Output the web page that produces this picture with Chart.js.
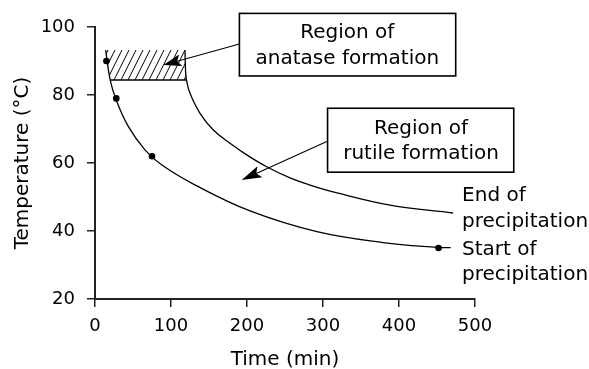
<!DOCTYPE html>
<html><head><meta charset="utf-8">
<script src="https://cdn.jsdelivr.net/npm/chart.js@4/dist/chart.umd.min.js"></script>
<style>html,body{margin:0;padding:0;background:#fff}#wrap{width:589px;height:369px}</style>
</head><body><div id="wrap"><canvas id="c" width="589" height="369"></canvas></div>
<script>
// ---- data ----
const xTicks = [0, 100, 200, 300, 400, 500];
const yTicks = [20, 40, 60, 80, 100];
const pointTime = [15, 28, 75, 452];
const pointTemp = [90, 79, 62, 35];
const startTime = [14, 20, 28, 44, 66, 88, 132, 204, 292, 379, 450, 468];
const startTemp = [93.2, 84.4, 78.5, 70.7, 63.8, 59.4, 53.5, 45.9, 39.8, 36.6, 35.2, 35.1];
const endTime = [118.4, 119.1, 120.4, 125, 138.2, 155.7, 177.6, 199.6, 225.9, 256.6, 282.9, 313.2, 388.2, 471];
const endTemp = [93.2, 87.4, 84.4, 80.5, 74.6, 69.7, 65.8, 62.4, 58.9, 55.6, 53.5, 51.5, 47.6, 45.3];
const hatchTime = [14, 118.4, 119.1, 120.4, 20, 17.3, 14];
const hatchTemp = [93.2, 93.2, 87.4, 84.4, 84.4, 88.6, 93.2];
const hatchBaseTime = [20, 120.4];
const hatchBaseTemp = [84.4, 84.4];
const anataseLabel = ["Region of", "anatase formation"];
const rutileLabel = ["Region of", "rutile formation"];
const endLabel = ["End of", "precipitation"];
const startLabel = ["Start of", "precipitation"];
const xTitle = "Time (min)";
const yTitle = "Temperature (\u00B0C)";

const zip = (a, b) => a.map((v, i) => ({x: v, y: b[i]}));
const FONT = '"DejaVu Sans", "Liberation Sans", sans-serif';

const canvas = document.getElementById('c');
const mainCtx = canvas.getContext('2d');
function hatchPattern() {
  const c = document.createElement('canvas'); c.width = 7; c.height = 14;
  const g = c.getContext('2d');
  g.strokeStyle = '#000'; g.lineWidth = 1;
  g.beginPath();
  for (const dx of [-7, 0, 7]) { g.moveTo(dx, 14); g.lineTo(dx + 7, 0); }
  g.stroke();
  return mainCtx.createPattern(c, 'repeat');
}

const annot = {
  id: 'annot',
  afterDatasetsDraw(chart, args, o) {
    const {ctx, scales: {x, y}} = chart;
    const X = v => x.getPixelForValue(v), Y = v => y.getPixelForValue(v);
    ctx.save();
    ctx.font = '20px ' + FONT;
    ctx.textBaseline = 'alphabetic';
    o.boxes.forEach(b => {
      const l = X(b.x1), r = X(b.x2), t = Y(b.y1), bt = Y(b.y2);
      ctx.fillStyle = '#fff'; ctx.fillRect(l, t, r - l, bt - t);
      ctx.strokeStyle = '#000'; ctx.lineWidth = 1.6; ctx.strokeRect(l, t, r - l, bt - t);
      ctx.fillStyle = '#000'; ctx.textAlign = 'center';
      b.lines.forEach((s, i) => ctx.fillText(s, X(b.tx), Y(b.ty[i])));
    });
    o.arrows.forEach(a => {
      const x0 = X(a.from[0]), y0 = Y(a.from[1]), x1 = X(a.to[0]), y1 = Y(a.to[1]);
      const ang = Math.atan2(y1 - y0, x1 - x0);
      const L = a.len, W = a.half;
      const bx = x1 - L * Math.cos(ang), by = y1 - L * Math.sin(ang);
      const nx = x1 - 0.8 * L * Math.cos(ang), ny = y1 - 0.8 * L * Math.sin(ang);
      ctx.strokeStyle = '#000'; ctx.lineWidth = 1.1;
      ctx.beginPath(); ctx.moveTo(x0, y0); ctx.lineTo(nx, ny); ctx.stroke();
      ctx.fillStyle = '#000';
      ctx.beginPath();
      ctx.moveTo(x1, y1);
      ctx.lineTo(bx + W * Math.sin(ang), by - W * Math.cos(ang));
      ctx.lineTo(nx, ny);
      ctx.lineTo(bx - W * Math.sin(ang), by + W * Math.cos(ang));
      ctx.closePath(); ctx.fill();
    });
    ctx.fillStyle = '#000'; ctx.textAlign = 'left';
    o.side.forEach(s => s.lines.forEach((t, i) => ctx.fillText(t, X(s.x), Y(s.ys[i]))));
    ctx.restore();
  }
};

new Chart(canvas, {
  type: 'line',
  data: {
    datasets: [
      {data: zip(pointTime, pointTemp), showLine: false, pointRadius: 3.3, pointBackgroundColor: '#000', pointBorderWidth: 0, borderColor: '#000'},
      {data: zip(startTime, startTemp), borderColor: '#000', borderWidth: 1.3, pointRadius: 0, tension: 0.4, fill: false},
      {data: zip(endTime, endTemp), borderColor: '#000', borderWidth: 1.3, pointRadius: 0, tension: 0.4, fill: false},
      {data: zip(hatchBaseTime, hatchBaseTemp), borderColor: '#000', borderWidth: 1.5, pointRadius: 0, tension: 0, fill: false},
      {data: zip(hatchTime, hatchTemp), borderWidth: 0, borderColor: 'rgba(0,0,0,0)', pointRadius: 0, tension: 0, fill: 'shape', backgroundColor: hatchPattern()}
    ]
  },
  options: {
    responsive: false,
    animation: false,
    devicePixelRatio: 1,
    layout: {padding: {top: 27, right: 114, bottom: 0, left: 0}},
    plugins: {
      legend: {display: false}, tooltip: {enabled: false}, title: {display: false},
      annot: {
        boxes: [
          {x1: 190, x2: 474.6, y1: 104, y2: 85.6, tx: 332, ty: [96.68, 89.12], lines: anataseLabel},
          {x1: 306, x2: 551, y1: 76.1, y2: 57.3, tx: 429, ty: [68.53, 61.09], lines: rutileLabel}
        ],
        arrows: [
          {from: [190, 95], to: [89.9, 88.8], len: 18, half: 6},
          {from: [305, 66.3], to: [193, 55], len: 20, half: 6}
        ],
        side: [
          {x: 483, ys: [48.91, 41.26], lines: endLabel},
          {x: 483, ys: [32.94, 25.59], lines: startLabel}
        ]
      }
    },
    scales: {
      x: {
        type: 'linear', min: 0, max: 500,
        afterFit: s => { s.height = 70; },
        afterBuildTicks: s => { s.ticks = xTicks.map(v => ({value: v})); },
        grid: {drawOnChartArea: false, drawTicks: true, tickLength: 8, color: '#222', lineWidth: 1.5},
        border: {display: true, color: '#222', width: 2},
        ticks: {color: '#000', font: {family: FONT, size: 18}, padding: 9, maxRotation: 0},
        title: {display: true, text: xTitle, color: '#000', font: {family: FONT, size: 20, lineHeight: 1}, padding: {top: 0, bottom: -1}}
      },
      y: {
        type: 'linear', min: 20, max: 100,
        afterFit: s => { s.width = 95; },
        afterBuildTicks: s => { s.ticks = yTicks.map(v => ({value: v})); },
        grid: {drawOnChartArea: false, drawTicks: true, tickLength: 8, color: '#222', lineWidth: 1.5},
        border: {display: true, color: '#222', width: 2},
        ticks: {color: '#000', font: {family: FONT, size: 18}, padding: 12},
        title: {display: true, text: yTitle, color: '#000', font: {family: FONT, size: 20, lineHeight: 1.2}, padding: {top: 11, bottom: 0}}
      }
    }
  },
  plugins: [annot]
});
</script></body></html>
